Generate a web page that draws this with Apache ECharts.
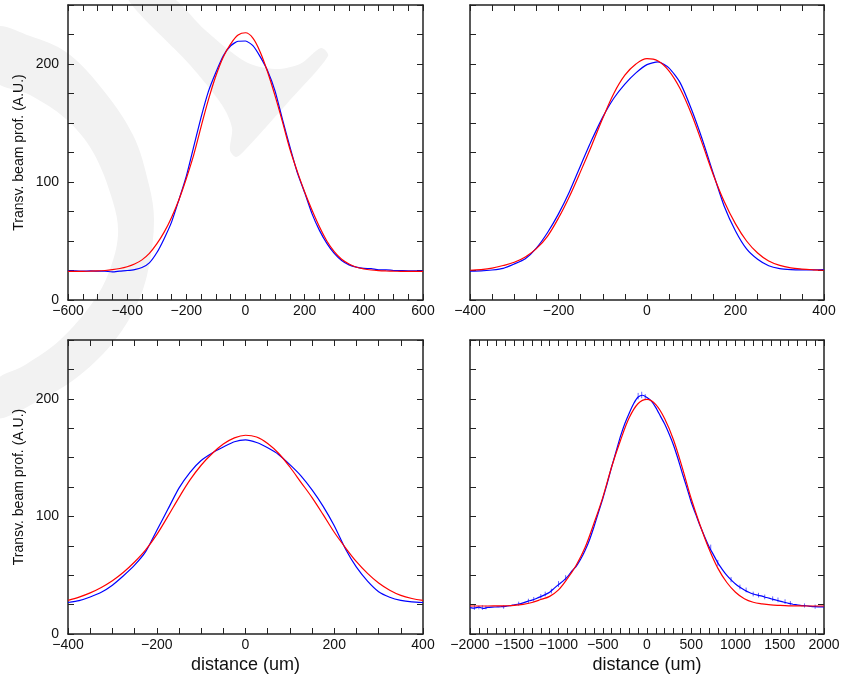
<!DOCTYPE html>
<html><head><meta charset="utf-8">
<script src="https://cdn.jsdelivr.net/npm/echarts@6/dist/echarts.min.js"></script>
<style>html,body{margin:0;padding:0;background:#fff}#c{width:841px;height:678px}</style>
</head><body><div id="c"></div>
<script>
// ---- data ----
const x1 = [-600,-575,-550,-525,-500,-475,-450,-425,-400,-375,-350,-325,-300,-275,-250,-225,-200,-175,-150,-125,-100,-75,-50,-25,0,25,50,75,100,125,150,175,200,225,250,275,300,325,350,375,400,425,450,475,500,525,550,575,600];
const fit1 = [24.2,24.2,24.3,24.4,24.6,25.0,25.7,26.7,28.2,30.5,34.0,39.5,47.5,57.5,70,85,103,123,147,170,190,206,217,224.5,226.5,222,210,193,173,151,128,109,91.5,76,62,50,41,34.5,30.5,27.8,26.3,25.4,24.9,24.6,24.4,24.3,24.2,24.2,24.2];
const meas1 = [24.6,24.6,24.5,24.6,24.5,24.4,23.8,24.5,25.0,25.8,27.5,31.5,40,52,66,85,105,130,155,177,193,207,215.5,219.3,219.5,215.5,206,194,177,153,130,108,91,73,59,48,39.5,33.5,29.8,27.8,26.8,26.6,25.6,25.6,25.0,24.9,24.8,24.8,24.8];

const x2 = [-400,-375,-350,-325,-300,-275,-250,-225,-200,-175,-150,-125,-100,-75,-50,-25,0,25,50,75,100,125,150,175,200,225,250,275,300,325,350,375,400];
const fit2 = [25.2,25.8,27.0,29.2,32.0,36.5,43.5,54,69.5,88,109,131,154,175,190.5,200,204.5,202.5,194,179,158,132.5,106,83,64.5,50,39.8,33,29.3,27.2,26.2,25.6,25.2];
const meas2 = [24.4,24.6,25.4,26.8,30.5,35,44,57,73,92,114,135.5,155,171,183,192.5,199.5,201.8,196.5,184,162,136,107,79,58.5,43.3,34.5,29,26.6,25.8,25.6,25.6,25.7];

const x3 = [-400,-375,-350,-325,-300,-275,-250,-225,-200,-175,-150,-125,-100,-75,-50,-25,0,25,50,75,100,125,150,175,200,225,250,275,300,325,350,375,400];
const fit3 = [28.6,31.4,35.0,39.6,45.3,52.5,61.2,71.5,84.5,100,116,131,143.5,153.5,161.5,166.8,169,167.5,162,153.5,142,129,116,101.5,86.5,73.5,61.5,51.5,43.3,37.2,32.8,30.2,28.6];
const meas3 = [26.8,28.4,31.5,35.5,41.5,49.5,58.5,70,88,106,124,137.5,147.5,154,159,163.5,165,162.8,158.3,152.5,144,134.5,122.5,108.5,92,72.5,56.8,45,36,31.3,28.6,27.3,26.8];

const x4fit = [-2000,-1900,-1800,-1700,-1600,-1500,-1400,-1300,-1200,-1100,-1000,-900,-800,-700,-600,-500,-400,-300,-200,-100,0,100,200,300,400,500,600,700,800,900,1000,1100,1200,1300,1400,1500,1600,1700,1800,1900,2000];
const fit4 = [23.8,23.8,23.8,23.9,24.0,24.3,25.2,26.8,29.3,32,37.5,47,58.5,73.5,94,116,142,164.5,184,196,199.5,195,183,165,141,115,92.5,72.5,56,44,35.5,30,27,25.6,24.7,24.3,24.0,23.9,23.8,23.8,23.8];
const x4meas = [-2000,-1950,-1900,-1850,-1800,-1750,-1700,-1650,-1600,-1550,-1500,-1450,-1400,-1350,-1300,-1250,-1200,-1150,-1100,-1050,-1000,-950,-900,-850,-800,-750,-700,-650,-600,-550,-500,-450,-400,-350,-300,-250,-200,-150,-100,-50,0,50,100,150,200,250,300,350,400,450,500,550,600,650,700,750,800,850,900,950,1000,1050,1100,1150,1200,1250,1300,1350,1400,1450,1500,1550,1600,1650,1700,1750,1800,1850,1900,1950,2000];
const meas4 = [22.5,22.0,22.8,21.8,22.6,22.9,23.0,23.2,23.5,24.0,24.8,25.5,26.5,27.8,28.8,30.2,31.8,33.5,35.5,38.8,42,45,48.5,53.5,57.5,63.5,71,80,91,103,115,128,142,155,168,179,188,196,201.5,203,201,198,192.5,185.5,178.5,170,160.5,149,136.5,124.5,112,102,92,83,74.5,67.5,60.5,55,50,46,42.5,39.8,37.5,35.5,34,33,32.2,31,30,29,28,27,26,25.3,24.7,24.2,24,23.5,23.2,23.0,23.0];
// scatter of the measured points in panel 4 (x, low, high)
const jitX  = [-1950,-1900,-1860,-1820,-1620,-1450,-1340,-1280,-1200,-1150,-1080,-1000,-920,-100,-60,-20,720,800,950,1050,1120,1200,1260,1330,1420,1480,1560,1620,1780,1900];
const jitLo = [20.5,21,20.5,21,21.5,24,26,27.5,30,32,34.5,40,46,199.5,200.5,199,71,58,44,38,35.5,32,31,29.5,28,27,25.5,24.5,22.5,21.5];
const jitHi = [24.5,24,24.5,24,24.5,27.5,30,31.5,34,36,38.5,45,50,205,206,204,76,63,48.5,42,39.5,36,35,33.5,32,31,29.5,28,26,25];

const yTicks = [0,100,200];
const yLabel = 'Transv. beam prof. (A.U.)';
const xLabel = 'distance (um)';

// ---- layout ----
const grids = [
  {left:68, top:5, width:355, height:295},
  {left:470, top:5, width:354, height:295},
  {left:68, top:340, width:355, height:294},
  {left:470, top:340, width:354, height:294}
];
const xCfg = [
  {min:-600, max:600, major:200, split:4},
  {min:-400, max:400, major:200, split:4},
  {min:-400, max:400, major:200, split:4},
  {min:-2000, max:2000, major:500, split:5}
];
const FONT = 'Liberation Sans, Arial, Helvetica, sans-serif';
const AX = '#222';
const fmtNum = v => String(v).replace('-', '\u2212');

const xAxis = [], yAxis = [];
grids.forEach((g, i) => {
  const c = xCfg[i];
  const bottomRow = i >= 2, leftCol = (i % 2 === 0);
  const common = {
    type:'value', gridIndex:i, min:c.min, max:c.max, interval:c.major,
    axisLine:{show:true, onZero:false, lineStyle:{color:AX, width:1.5}},
    axisTick:{show:true, inside:true, length:6, lineStyle:{color:AX, width:1}},
    minorTick:{show:true, splitNumber:c.split, length:6, lineStyle:{color:AX, width:1}},
    splitLine:{show:false}
  };
  xAxis.push(Object.assign({}, common, {
    position:'bottom',
    axisLabel:{show:true, margin:4, fontSize:14, color:'#111', fontFamily:FONT, formatter:fmtNum},
    name: bottomRow ? xLabel : '', nameLocation:'middle', nameGap:22,
    nameTextStyle:{fontSize:18, color:'#111', fontFamily:FONT}
  }));
  xAxis.push(Object.assign({}, common, {position:'top', axisLabel:{show:false}}));
  const ycommon = {
    type:'value', gridIndex:i, min:0, max:250, interval:25,
    axisLine:{show:true, onZero:false, lineStyle:{color:AX, width:1.5}},
    axisTick:{show:true, inside:true, length:6, lineStyle:{color:AX, width:1}},
    splitLine:{show:false}
  };
  yAxis.push(Object.assign({}, ycommon, {
    position:'left',
    axisLabel:{show:leftCol, margin:9, fontSize:14, color:'#111', fontFamily:FONT,
      formatter: v => yTicks.indexOf(v) >= 0 ? String(v) : ''},
    name: leftCol ? yLabel : '', nameLocation:'middle', nameGap:42,
    nameTextStyle:{fontSize:14, color:'#111', fontFamily:FONT}
  }));
  yAxis.push(Object.assign({}, ycommon, {position:'right', axisLabel:{show:false}}));
});

const pairs = (xs, ys) => xs.map((x, k) => [x, ys[k]]);
const datasets = [
  [pairs(x1, meas1), pairs(x1, fit1)],
  [pairs(x2, meas2), pairs(x2, fit2)],
  [pairs(x3, meas3), pairs(x3, fit3)],
  [pairs(x4meas, meas4), pairs(x4fit, fit4)]
];
const series = [];
datasets.forEach((d, i) => {
  series.push({type:'line', xAxisIndex:2*i, yAxisIndex:2*i, data:d[0], showSymbol:false, smooth:0.2,
    lineStyle:{color:'#0000ff', width:1.2}, z:3, silent:true, animation:false});
  series.push({type:'line', xAxisIndex:2*i, yAxisIndex:2*i, data:d[1], showSymbol:false, smooth:0.35,
    lineStyle:{color:'#ff0000', width:1.2}, z:4, silent:true, animation:false});
});
series.push({
  type:'custom', xAxisIndex:6, yAxisIndex:6, z:3, silent:true, animation:false,
  data: jitX.map((x, k) => [x, jitLo[k], jitHi[k]]),
  renderItem: (params, api) => {
    const a = api.coord([api.value(0), api.value(1)]);
    const b = api.coord([api.value(0), api.value(2)]);
    return {type:'line', shape:{x1:a[0], y1:a[1], x2:b[0], y2:b[1]},
      style:{stroke:'rgba(0,0,255,0.6)', lineWidth:1}};
  }
});

const WM = '#f2f2f2';
const graphic = {elements:[
  {type:'polygon', z:-10, silent:true, shape:{smooth:0.35, points:[
    [-5,28],[30,36],[66,52],[99,85],[133,135],[149,185],[154,220],[149,266],[138,302],[115,340],[80,375],[40,400],[-5,418],
    [-5,382],[25,365],[60,340],[93,302],[109,272],[118,235],[113,202],[93,152],[66,119],[30,95],[-5,80]]},
    style:{fill:WM}},
  {type:'polygon', z:-10, silent:true, shape:{smooth:0.3, points:[
    [126,-5],[168,-5],[205,30],[246,62],[275,69],[300,64],[321,48],[328,56],[290,100],[245,150],[236,157],[230,150],[232,128],[222,105],[190,65]]},
    style:{fill:WM}}
]};

const chart = echarts.init(document.getElementById('c'), null, {renderer:'canvas'});
chart.setOption({
  animation:false,
  backgroundColor:'#ffffff',
  grid: grids.map(g => Object.assign({containLabel:false, outerBoundsMode:'none'}, g)),
  xAxis, yAxis, series, graphic
});
</script></body></html>
